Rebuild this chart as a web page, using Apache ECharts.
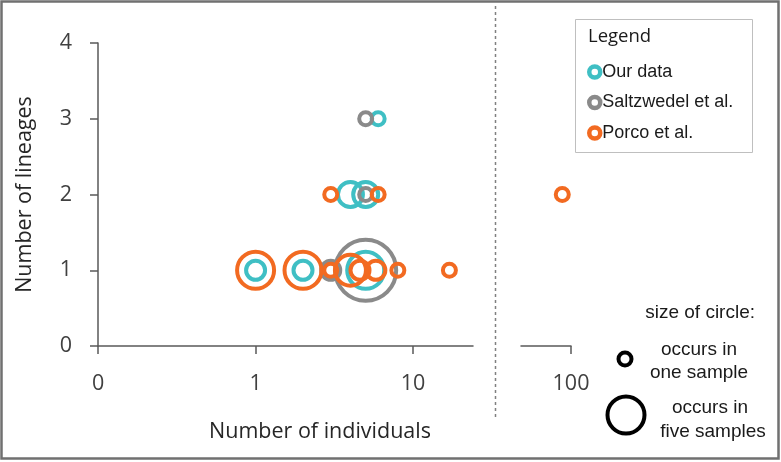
<!DOCTYPE html>
<html>
<head>
<meta charset="utf-8">
<script src="https://cdn.jsdelivr.net/npm/echarts@6/dist/echarts.min.js"></script>
<style>
html,body{margin:0;padding:0;background:#fff;}
#chart{width:781px;height:462px;}
</style>
</head>
<body>
<div id="chart"></div>
<script>
// ---- data ----
const seriesNames = ['Our data', 'Saltzwedel et al.', 'Porco et al.'];
const ourX = [6, 4, 5, 1, 2, 5];
const ourY = [3, 2, 2, 1, 1, 1];
const ourN = [1, 3, 3, 2, 2, 5];
const saltX = [5, 5, 3, 5];
const saltY = [3, 2, 1, 1];
const saltN = [1, 1, 2, 9];
const porcoX = [3, 6, 88, 1, 2, 3, 4, 4.6, 5.8, 8, 17];
const porcoY = [2, 2, 2, 1, 1, 1, 1, 1, 1, 1, 1];
const porcoN = [1, 1, 1, 5, 5, 1, 4, 2, 2, 1, 1];
const xTicksLeft = [0.1, 1, 10];
const xTicksRight = [100];
const yTicks = [0, 1, 2, 3, 4];
const sizeLegendN = [1, 5];

// ---- styles ----
const colors = ['#3FBFC4', '#8A8A8A', '#F26A21'];
const BW = 4;
const symSize = n => 7 + 6 * n;           // path diameter for n samples
const breakX = 24;                         // left panel upper bound
const axisColor = '#595959';
const labelColor = '#404040';
const FONT = 'Open Sans';

function pts(xs, ys, ns, filt) {
  const out = [];
  for (let i = 0; i < xs.length; i++) if (filt(xs[i])) out.push([xs[i], ys[i], ns[i]]);
  return out;
}
function mkSeries(name, color, data, idx) {
  return {
    type: 'scatter', name: name, xAxisIndex: idx, yAxisIndex: idx,
    data: data, symbol: 'circle',
    symbolSize: v => symSize(v[2]),
    itemStyle: { color: 'rgba(0,0,0,0)', borderColor: color, borderWidth: BW, opacity: 1 },
    emphasis: { disabled: true }, silent: true, animation: false
  };
}
const left = v => v < breakX, right = v => v >= breakX;
const series = [
  mkSeries(seriesNames[0], colors[0], pts(ourX, ourY, ourN, left), 0),
  mkSeries(seriesNames[1], colors[1], pts(saltX, saltY, saltN, left), 0),
  mkSeries(seriesNames[2], colors[2], pts(porcoX, porcoY, porcoN, left), 0),
  mkSeries(seriesNames[2], colors[2], pts(porcoX, porcoY, porcoN, right), 1)
];

const axisLabelBase = { color: labelColor, fontSize: 21.5, fontFamily: FONT };
const chart = echarts.init(document.getElementById('chart'), null, { renderer: 'canvas' });
const smallR = symSize(sizeLegendN[0]) / 2, bigR = symSize(sizeLegendN[1]) / 2;
const txt = (x, y, s, align) => ({
  type: 'text', x: x, y: y, silent: true,
  style: { text: s, fill: '#1a1a1a', font: '19px "Liberation Sans", Arial', textAlign: align || 'center', textVerticalAlign: 'middle' }
});

chart.setOption({
  animation: false,
  backgroundColor: '#fff',
  grid: [
    { left: 98, top: 43, width: 375, height: 303 },
    { left: 521, top: 43, width: 50, height: 303 }
  ],
  xAxis: [
    {
      type: 'log', logBase: 10, gridIndex: 0, min: 0.0999, max: breakX,
      name: 'Number of individuals', nameLocation: 'middle', nameGap: 75,
      nameTextStyle: { color: '#262626', fontSize: 21.5, fontFamily: FONT, padding: [0, 0, 0, 69] },
      axisLine: { show: true, lineStyle: { color: axisColor, width: 1.5 } },
      axisTick: { show: true, length: 8, customValues: xTicksLeft, lineStyle: { color: axisColor, width: 1.5 } },
      axisLabel: Object.assign({}, axisLabelBase, { margin: 27, customValues: xTicksLeft,
        formatter: v => (v < 0.5 ? '0' : String(Math.round(v))) }),
      splitLine: { show: false }, minorTick: { show: false }
    },
    {
      type: 'log', logBase: 10, gridIndex: 1, min: 48, max: 100.02,
      axisLine: { show: true, lineStyle: { color: axisColor, width: 1.5 } },
      axisTick: { show: true, length: 8, customValues: xTicksRight, lineStyle: { color: axisColor, width: 1.5 } },
      axisLabel: Object.assign({}, axisLabelBase, { margin: 27, customValues: xTicksRight,
        formatter: v => String(Math.round(v)) }),
      splitLine: { show: false }
    }
  ],
  yAxis: [
    {
      type: 'value', gridIndex: 0, min: yTicks[0], max: yTicks[yTicks.length - 1], interval: 1,
      name: 'Number of lineages', nameLocation: 'middle', nameGap: 62, nameRotate: 90,
      nameTextStyle: { color: '#262626', fontSize: 21.5, fontFamily: FONT },
      axisLine: { show: true, lineStyle: { color: axisColor, width: 1.5 } },
      axisTick: { show: true, length: 8, lineStyle: { color: axisColor, width: 1.5 } },
      axisLabel: Object.assign({}, axisLabelBase, { margin: 26 }),
      splitLine: { show: false }
    },
    {
      type: 'value', gridIndex: 1, min: yTicks[0], max: yTicks[yTicks.length - 1], interval: 1, show: false
    }
  ],
  legend: {
    orient: 'vertical', left: 587, top: 62, itemGap: 10.5, padding: 0,
    itemWidth: 11, itemHeight: 11, icon: 'circle',
    textStyle: { color: '#1a1a1a', fontSize: 18, fontFamily: '"Liberation Sans", Arial', lineHeight: 20, padding: [0, 0, 0, -3] },
    data: seriesNames.map((n, i) => ({ name: n, itemStyle: { color: '#fff', borderColor: colors[i], borderWidth: 4.5 } })),
    selectedMode: false
  },
  series: series,
  graphic: [
    { type: 'rect', shape: { x: 1.5, y: 1.5, width: 777, height: 457 }, silent: true,
      style: { fill: 'none', stroke: '#707070', lineWidth: 2.5 } },
    { type: 'line', shape: { x1: 495.5, y1: 6, x2: 495.5, y2: 420 }, silent: true,
      style: { stroke: '#808080', lineWidth: 1.5, lineDash: [3, 3] } },
    { type: 'rect', shape: { x: 575.5, y: 19.5, width: 177, height: 133 }, silent: true,
      style: { fill: 'none', stroke: '#bfbfbf', lineWidth: 1 } },
    { type: 'text', x: 588, y: 37, silent: true,
      style: { text: 'Legend', fill: '#1a1a1a', font: '18.5px "Open Sans"', textAlign: 'left', textVerticalAlign: 'middle' } },
    txt(755, 313, 'size of circle:', 'right'),
    { type: 'circle', shape: { cx: 625, cy: 359, r: smallR }, silent: true,
      style: { fill: 'none', stroke: '#000', lineWidth: BW } },
    txt(699, 350, 'occurs in'),
    txt(699, 373, 'one sample'),
    { type: 'circle', shape: { cx: 626, cy: 415, r: bigR }, silent: true,
      style: { fill: 'none', stroke: '#000', lineWidth: BW } },
    txt(710, 408, 'occurs in'),
    txt(713, 432, 'five samples')
  ]
});
</script>
</body>
</html>
